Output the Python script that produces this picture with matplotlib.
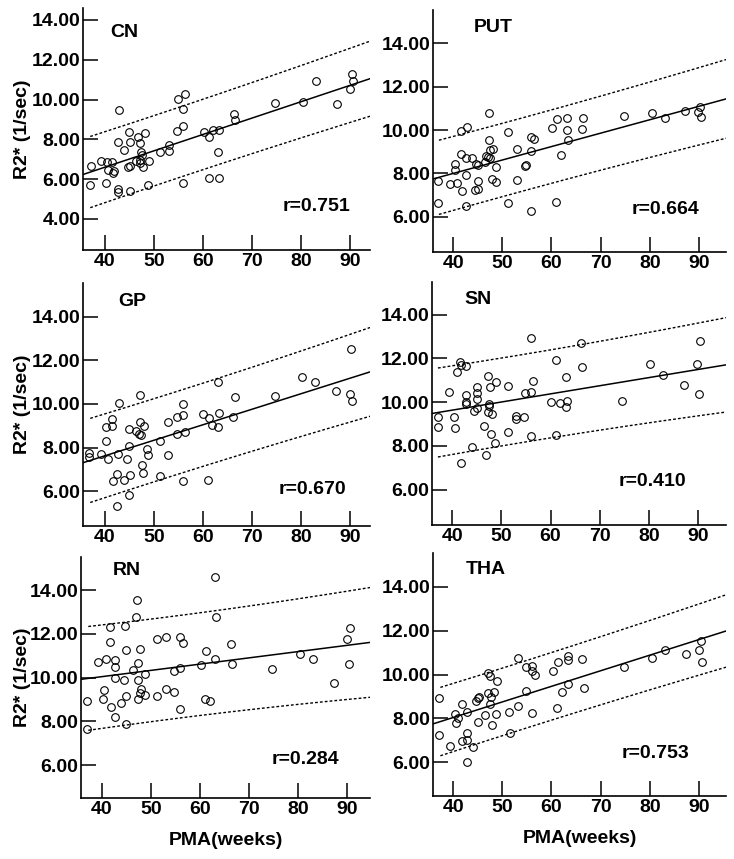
import numpy as np
import matplotlib
matplotlib.use("Agg")
from matplotlib import pyplot as plt

plt.rcParams['font.family'] = ['Liberation Sans', 'DejaVu Sans']
plt.rcParams['font.weight'] = 'bold'
plt.rcParams['font.size'] = 14

# --- data ---
cn_x = [37.1, 36.9, 39.1, 40.3, 40.2, 40.7, 41.5, 41.6, 41.8, 42.9, 42.7, 42.7, 42.6,
        43.9, 44.8, 45.0, 45.0, 44.6, 45.1, 46.7, 47.1, 46.3, 47.4, 47.6, 47.2, 47.2,
        47.8, 48.1, 48.9, 48.8, 51.3, 53.0, 53.0, 54.8, 54.6, 56.4, 56.0, 56.0, 55.9,
        60.3, 61.3, 62.0, 63.2, 63.1, 61.2, 63.3, 66.3, 66.6, 74.8, 80.5, 83.0, 87.3,
        90.0, 90.5, 90.6]
cn_y = [6.66, 5.71, 6.91, 6.85, 5.81, 6.46, 6.85, 6.29, 6.40, 9.48, 7.85, 5.51, 5.34,
        7.48, 8.39, 7.85, 5.42, 6.60, 6.68, 8.10, 7.80, 6.90, 7.38, 7.22, 6.96, 6.80,
        6.63, 8.34, 6.91, 5.71, 7.35, 7.74, 7.43, 10.05, 8.42, 10.30, 9.51, 8.67, 5.81,
        8.36, 8.12, 8.45, 8.49, 7.38, 6.08, 6.04, 9.26, 8.97, 9.85, 9.90, 10.92, 9.80,
        10.52, 11.29, 10.93]

put_x = [37.0, 37.0, 39.3, 40.3, 40.3, 40.8, 41.5, 42.8, 41.6, 41.7, 42.6, 42.6, 42.6,
         43.9, 44.4, 45.1, 45.0, 45.0, 44.6, 46.4, 46.7, 47.3, 47.3, 47.5, 47.5, 47.1,
         47.9, 48.1, 48.7, 48.8, 51.2, 51.2, 53.0, 53.0, 54.7, 54.9, 55.9, 56.4, 55.9,
         55.9, 60.2, 61.2, 61.0, 61.9, 63.1, 63.1, 63.3, 66.3, 66.5, 74.7, 80.4, 83.0,
         87.2, 89.9, 90.3, 90.5]
put_y = [7.63, 6.65, 7.49, 8.42, 8.15, 7.54, 9.95, 10.12, 8.89, 7.17, 8.69, 7.92, 6.51,
         8.69, 7.23, 7.26, 8.38, 7.65, 8.45, 8.51, 8.82, 10.80, 9.54, 9.08, 8.72, 8.77,
         7.72, 9.11, 7.58, 8.28, 9.89, 6.65, 9.14, 7.71, 8.35, 8.38, 9.66, 9.57, 9.05,
         6.28, 10.08, 10.49, 6.66, 8.85, 10.58, 10.02, 9.54, 10.05, 10.58, 10.63, 10.77,
         10.57, 10.89, 10.82, 11.08, 10.60]

gp_x = [36.8, 36.8, 39.1, 40.2, 40.2, 40.7, 41.4, 41.4, 41.6, 42.6, 42.5, 42.8, 42.5,
        43.9, 44.4, 44.8, 44.8, 45.0, 44.8, 46.3, 47.1, 47.1, 47.0, 47.3, 47.5, 47.7,
        48.0, 48.5, 48.7, 51.2, 51.2, 52.9, 52.9, 54.6, 54.6, 55.9, 55.9, 56.4, 55.9,
        60.1, 61.2, 61.9, 63.1, 63.2, 63.1, 61.1, 66.2, 66.5, 74.6, 80.3, 82.9, 87.2,
        90.0, 90.5, 90.3]
gp_y = [7.74, 7.56, 7.69, 8.96, 8.32, 7.48, 9.30, 8.99, 6.46, 7.71, 6.78, 10.05, 5.30,
        6.50, 7.48, 8.85, 8.06, 6.72, 5.82, 8.78, 10.40, 9.15, 8.61, 8.58, 7.19, 6.85,
        9.00, 7.92, 7.66, 8.29, 6.67, 9.19, 7.66, 9.42, 8.61, 9.98, 9.47, 8.70, 6.47,
        9.54, 9.34, 9.04, 11.01, 9.57, 8.95, 6.52, 9.42, 10.32, 10.37, 11.22, 10.99,
        10.60, 10.44, 10.15, 12.50]

sn_x = [37.1, 37.1, 39.3, 40.3, 40.5, 40.9, 41.6, 41.7, 41.8, 42.8, 42.9, 42.8, 42.8,
        44.0, 44.5, 45.0, 45.0, 45.1, 45.0, 46.4, 46.9, 47.2, 47.4, 47.4, 47.2, 47.7,
        47.8, 48.2, 48.9, 48.8, 51.3, 51.3, 53.0, 53.0, 54.7, 54.8, 56.0, 56.4, 56.0,
        56.0, 60.2, 61.2, 61.1, 62.0, 63.1, 63.3, 63.1, 66.3, 66.5, 74.6, 80.3, 82.9,
        87.2, 89.9, 90.4, 90.3]
sn_y = [9.33, 8.87, 10.46, 9.33, 8.84, 11.40, 11.82, 11.71, 7.21, 11.66, 10.34, 10.00,
        9.91, 7.94, 9.62, 10.69, 10.41, 10.14, 9.73, 8.89, 7.59, 11.19, 9.92, 9.83, 9.53,
        10.69, 8.53, 9.44, 10.92, 8.12, 10.73, 8.64, 9.36, 9.21, 9.33, 10.40, 10.46,
        10.95, 12.95, 8.44, 10.02, 11.94, 8.50, 9.97, 11.15, 10.06, 9.79, 12.70, 11.63,
        10.05, 11.74, 11.24, 10.78, 11.73, 12.81, 10.37]

rn_x = [37.0, 37.0, 39.3, 40.4, 40.3, 40.9, 41.6, 41.6, 41.8, 42.7, 42.7, 42.7, 42.8,
        44.0, 44.5, 44.8, 45.0, 45.0, 45.0, 46.4, 46.9, 47.1, 47.3, 47.3, 47.3, 47.7,
        48.0, 47.8, 48.8, 48.9, 51.3, 51.3, 53.0, 53.0, 54.7, 54.7, 55.9, 56.5, 56.0,
        56.0, 60.3, 61.3, 61.0, 62.0, 63.1, 63.3, 63.1, 66.3, 66.5, 74.7, 80.4, 82.9,
        87.2, 89.9, 90.5, 90.4]
rn_y = [8.94, 7.66, 10.71, 9.44, 9.00, 10.87, 12.30, 11.61, 8.65, 10.79, 10.47, 10.00,
        8.22, 8.83, 9.91, 12.34, 11.28, 9.16, 7.86, 10.33, 12.78, 13.54, 10.68, 9.91,
        9.00, 11.31, 9.50, 9.29, 9.19, 10.15, 11.75, 9.18, 11.84, 9.48, 9.36, 10.32,
        11.87, 11.57, 10.43, 8.57, 10.58, 11.23, 9.00, 8.91, 14.61, 12.77, 10.87, 11.52,
        10.62, 10.40, 11.06, 10.87, 9.77, 11.78, 12.27, 10.64]

tha_x = [37.2, 37.2, 39.4, 40.4, 40.5, 41.0, 41.7, 41.7, 42.8, 42.9, 42.8, 42.8, 44.1,
         44.7, 45.1, 45.2, 45.1, 46.5, 47.0, 47.4, 47.1, 47.4, 47.6, 47.9, 48.3, 49.0,
         48.8, 51.3, 51.5, 53.1, 53.1, 54.8, 54.8, 56.1, 56.1, 56.6, 56.1, 60.4, 61.4,
         61.2, 62.1, 63.3, 63.3, 63.4, 66.3, 66.6, 74.7, 80.5, 83.1, 87.4, 90.1, 90.5,
         90.6]
tha_y = [8.93, 7.23, 6.76, 8.19, 7.78, 8.04, 8.67, 6.99, 8.31, 7.32, 7.00, 6.02, 6.69,
         8.81, 8.95, 8.99, 7.82, 8.16, 10.08, 9.95, 9.14, 8.66, 8.96, 7.69, 9.19, 9.72,
         8.22, 8.29, 7.35, 10.77, 8.58, 10.36, 9.24, 10.40, 10.15, 9.99, 8.23, 10.18,
         10.56, 8.49, 9.20, 10.84, 10.66, 9.55, 10.71, 9.40, 10.33, 10.75, 11.10, 10.95,
         11.13, 11.51, 10.57]

names = ["CN", "PUT", "GP", "SN", "RN", "THA"]
r_labels = ["r=0.751", "r=0.664", "r=0.670", "r=0.410", "r=0.284", "r=0.753"]
xs = [cn_x, put_x, gp_x, sn_x, rn_x, tha_x]
ys = [cn_y, put_y, gp_y, sn_y, rn_y, tha_y]

# --- layout (figure fractions) ---
W, H = 734.0, 859.0
positions = [[0.1131, 0.7090, 0.3910, 0.2817],
             [0.5899, 0.7066, 0.3992, 0.2817],
             [0.1131, 0.3877, 0.3910, 0.2829],
             [0.5886, 0.3888, 0.4005, 0.2829],
             [0.1104, 0.0710, 0.3937, 0.2806],
             [0.5899, 0.0733, 0.3992, 0.2829]]
xlims = [(35.5, 94.1), (35.9, 95.5), (35.5, 94.1), (35.9, 95.7), (35.8, 94.6), (35.9, 95.5)]
ylims = [(2.44, 14.6), (4.37, 15.54), (4.4, 15.55), (4.38, 15.5), (4.49, 15.52), (4.46, 15.54)]
name_pos = [(0.094, 0.897), (0.14, 0.926), (0.122, 0.923), (0.109, 0.926), (0.111, 0.943), (0.113, 0.934)]
r_pos = [(0.697, 0.178), (0.679, 0.174), (0.68, 0.152), (0.636, 0.178), (0.66, 0.158), (0.645, 0.177)]

T_CRIT = 1.67  # ~90% prediction interval


def fit_lines(x, y, grid):
    x = np.asarray(x)
    y = np.asarray(y)
    n = len(x)
    b, a = np.polyfit(x, y, 1)
    resid = y - (a + b * x)
    s = np.sqrt(np.sum(resid ** 2) / (n - 2))
    sxx = np.sum((x - x.mean()) ** 2)
    yhat = a + b * grid
    half = T_CRIT * s * np.sqrt(1 + 1.0 / n + (grid - x.mean()) ** 2 / sxx)
    return yhat, yhat - half, yhat + half


fig = plt.figure(figsize=(7.34, 8.59), dpi=100)

for i in range(6):
    ax = fig.add_axes(positions[i])
    x0, x1 = xlims[i]
    ax.set_xlim(x0, x1)
    ax.set_ylim(*ylims[i])

    grid = np.linspace(x0, x1, 200)
    yhat, lo, hi = fit_lines(xs[i], ys[i], grid)
    ax.plot(grid, yhat, color='black', lw=1.1)
    band = grid >= min(xs[i])
    ax.plot(grid[band], lo[band], color='black', lw=1.0, linestyle=(0, (2, 1.5)))
    ax.plot(grid[band], hi[band], color='black', lw=1.0, linestyle=(0, (2, 1.5)))

    ax.plot(xs[i], ys[i], 'o', mfc='none', mec='black', ms=5.5, mew=0.8)

    for side in ['top', 'right']:
        ax.spines[side].set_visible(False)
    for side in ['left', 'bottom']:
        ax.spines[side].set_linewidth(1.2)

    ax.set_xticks([40, 50, 60, 70, 80, 90])
    if i == 0:
        ax.set_yticks([4, 6, 8, 10, 12, 14])
    else:
        ax.set_yticks([6, 8, 10, 12, 14])
    ax.set_yticklabels(["%.2f" % v for v in ax.get_yticks()])
    ax.tick_params(direction='in', length=11, width=1.1, pad=2, labelsize=14)

    ax.text(name_pos[i][0], name_pos[i][1], names[i], transform=ax.transAxes,
            fontsize=14, fontweight='bold', va='center', ha='left')
    ax.text(r_pos[i][0], r_pos[i][1], r_labels[i], transform=ax.transAxes,
            fontsize=14, fontweight='bold', va='center', ha='left')

    left_px = positions[i][0] * W
    width_px = positions[i][2] * W
    height_px = positions[i][3] * H
    if i % 2 == 0:
        ax.set_ylabel("R2* (1/sec)", fontsize=14, fontweight='bold')
        ax.yaxis.set_label_coords((31 - left_px) / width_px, 0.5)
    if i >= 4:
        ax.set_xlabel("PMA(weeks)", fontsize=14, fontweight='bold')
        ax.xaxis.set_label_coords(0.5, -34.0 / height_px)

fig.savefig("out.png", dpi=100)
